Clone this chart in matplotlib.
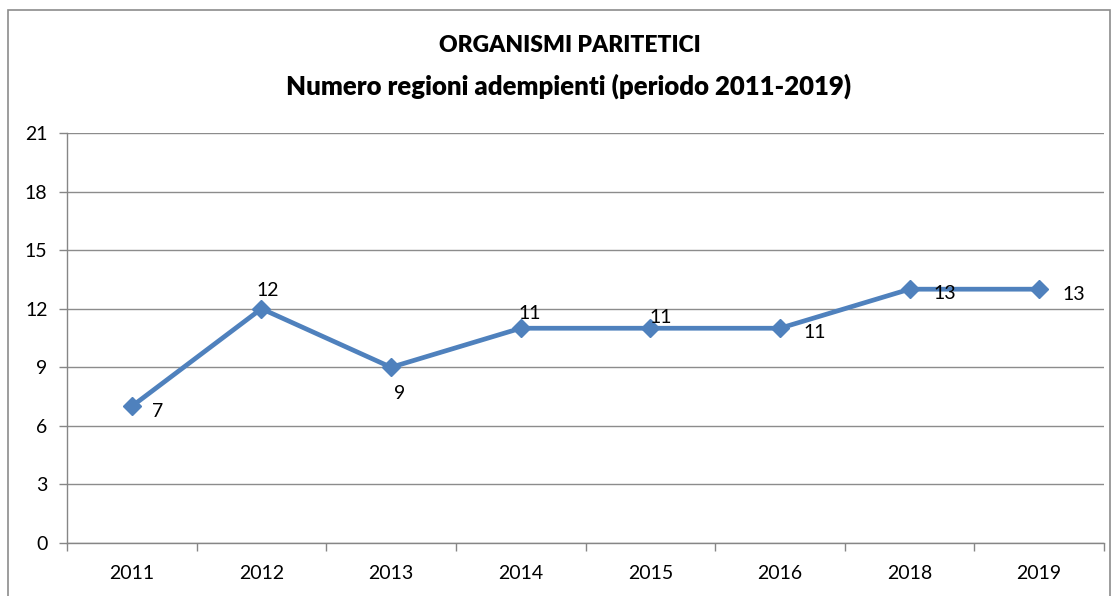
import numpy as np
from matplotlib import pyplot as plt
from matplotlib.patches import Rectangle

plt.rcParams['font.family'] = ['Lato', 'DejaVu Sans']

anni = ['2011', '2012', '2013', '2014', '2015', '2016', '2018', '2019']
regioni = [7, 12, 9, 11, 11, 11, 13, 13]
# label offsets in pixels (dx, dy)
off = [(26, -5), (6, 18), (9, -26), (9, 15), (10, 11), (35, -4), (35, -4), (35, -5)]

fig = plt.figure(figsize=(11.17, 5.96), dpi=100)
fig.patches.append(Rectangle((8 / 1117, -0.05), (1110 - 8) / 1117, 1.05 - 10 / 596,
                             transform=fig.transFigure, fill=False,
                             edgecolor='#8c8c8c', linewidth=1.2))

ax = fig.add_axes([67 / 1117, 1 - 543 / 596, (1104 - 67) / 1117, (543 - 133) / 596])
x = np.arange(len(anni))
ax.plot(x, regioni, color='#4F81BD', linewidth=3.4, marker='D', markersize=9.5,
        zorder=3)
for i, v in enumerate(regioni):
    ax.annotate(str(v), (x[i], v), xytext=off[i], textcoords='offset pixels',
                ha='center', va='center', fontsize=14, color='black')

ax.set_xlim(-0.5, len(anni) - 0.5)
ax.set_ylim(0, 21)
ax.set_yticks(range(0, 22, 3))
ax.set_xticks(x)
ax.set_xticklabels(anni, fontsize=14)
ax.set_xticks(np.arange(-0.5, len(anni), 1), minor=True)
ax.tick_params(axis='x', which='major', length=0, pad=16)
ax.tick_params(axis='x', which='minor', length=6, color='#868686', width=1)
ax.tick_params(axis='y', length=6, color='#868686', width=1, labelsize=14, pad=8)
ax.grid(axis='y', color='#8c8c8c', linewidth=1)
ax.set_axisbelow(True)
for s in ['top', 'right']:
    ax.spines[s].set_visible(False)
for s in ['left', 'bottom']:
    ax.spines[s].set_color('#868686')
    ax.spines[s].set_linewidth(1)

fig.text(570 / 1117, 1 - 46 / 596, 'ORGANISMI PARITETICI', ha='center', va='center',
         fontsize=16.5, fontweight='heavy')
fig.text(569 / 1117, 1 - 86 / 596, 'Numero regioni adempienti (periodo 2011-2019)',
         ha='center', va='center', fontsize=18.5, fontweight='heavy')

fig.savefig('out.png', dpi=100)
